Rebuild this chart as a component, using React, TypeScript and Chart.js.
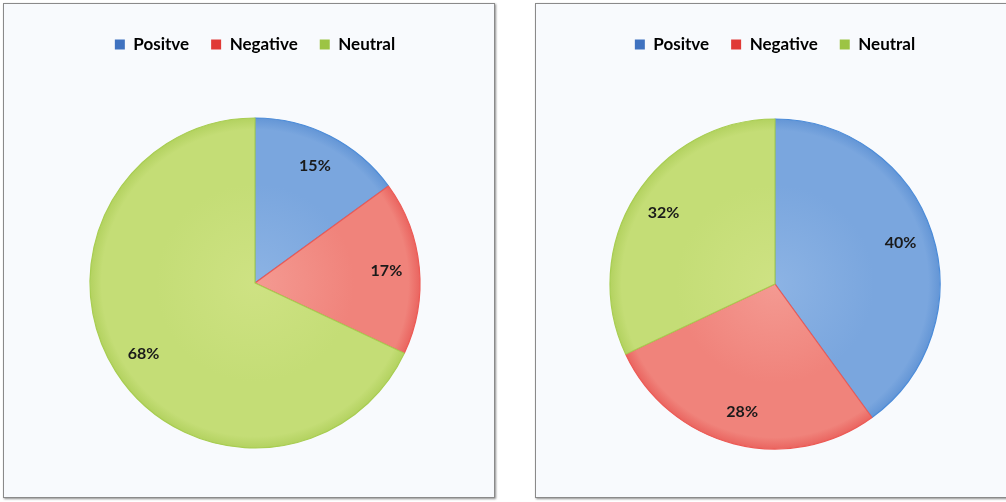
import React, { useEffect, useRef } from "react";
import { Chart, registerables } from "chart.js";

Chart.register(...registerables);

const CATEGORIES = ["Positve", "Negative", "Neutral"];
const LEFT_VALUES = [15, 17, 68];
const RIGHT_VALUES = [40, 28, 32];
const LEGEND_COLORS = ["#3f72c0", "#e03a36", "#9cc444"];
const INNER_COLORS = ["#8cb3e4", "#f49a92", "#cee283"];
const MID_COLORS = ["#7aa6de", "#f0837b", "#c4dd76"];
const OUTER_COLORS = ["#6496d6", "#ea6560", "#b3d260"];
const EDGE_COLORS = ["#4b8bd8", "#ec5a55", "#a8cd52"];
const PIE_RADIUS = 165;

const labelPlugin = {
  id: "sliceLabels",
  afterDatasetsDraw(chart: any) {
    const ctx = chart.ctx;
    const meta = chart.getDatasetMeta(0);
    const data = chart.data.datasets[0].data as number[];
    ctx.save();
    ctx.font = "bold 16px Lato";
    ctx.fillStyle = "#1a1a1a";
    ctx.textAlign = "center";
    ctx.textBaseline = "middle";
    meta.data.forEach((arc: any, i: number) => {
      const p = arc.getProps(["x", "y", "startAngle", "endAngle", "outerRadius"], true);
      const mid = (p.startAngle + p.endAngle) / 2;
      const r = p.outerRadius * 0.8;
      ctx.fillText(data[i] + "%", p.x + Math.cos(mid) * r, p.y + Math.sin(mid) * r);
    });
    ctx.restore();
  },
};

function PieBox(props: { values: number[]; width: number; height: number; padLeft: number }) {
  const ref = useRef<HTMLCanvasElement | null>(null);
  useEffect(() => {
    if (!ref.current) return;
    const chart = new Chart(ref.current, {
      type: "pie",
      data: {
        labels: CATEGORIES,
        datasets: [
          {
            data: props.values,
            radius: PIE_RADIUS,
            borderWidth: 1.2,
            borderColor: EDGE_COLORS,
            backgroundColor: (c: any) => {
              const ch = c.chart;
              const area = ch.chartArea;
              const i = c.dataIndex ?? 0;
              if (!area) return MID_COLORS[i];
              const cx = (area.left + area.right) / 2;
              const cy = (area.top + area.bottom) / 2;
              const g = ch.ctx.createRadialGradient(cx, cy, 0, cx, cy, PIE_RADIUS);
              g.addColorStop(0, INNER_COLORS[i]);
              g.addColorStop(0.6, MID_COLORS[i]);
              g.addColorStop(0.93, MID_COLORS[i]);
              g.addColorStop(1, OUTER_COLORS[i]);
              return g;
            },
          } as any,
        ],
      },
      options: {
        responsive: false,
        animation: false,
        layout: { padding: { top: 10, left: props.padLeft, right: 0, bottom: 0 } },
        plugins: {
          tooltip: { enabled: false },
          legend: {
            position: "top",
            labels: {
              boxWidth: 10,
              boxHeight: 10,
              padding: 22,
              color: "#1a1a1a",
              font: { family: "Lato", size: 17, weight: "bold" },
              generateLabels: () =>
                CATEGORIES.map((t, i) => ({
                  text: t,
                  fillStyle: LEGEND_COLORS[i],
                  strokeStyle: LEGEND_COLORS[i],
                  lineWidth: 0,
                  hidden: false,
                  index: i,
                })),
            },
          },
        },
      },
      plugins: [labelPlugin],
    });
    return () => chart.destroy();
  }, []);
  return <canvas ref={ref} width={props.width} height={props.height} style={{ display: "block" }} />;
}

export default function App() {
  const boxBase: React.CSSProperties = {
    position: "absolute",
    top: 3,
    height: 493,
    border: "1px solid #8a8a8a",
    background: "#f8fafd",
    boxShadow: "1px 1px 2px rgba(0,0,0,0.45)",
    overflow: "hidden",
  };
  return (
    <div style={{ position: "fixed", left: 0, top: 0, width: 1006, height: 502, background: "#ffffff" }}>
      <div style={{ ...boxBase, left: 3, width: 490 }}>
        <PieBox values={LEFT_VALUES} width={490} height={499} padLeft={12} />
      </div>
      <div style={{ ...boxBase, left: 535, width: 480 }}>
        <PieBox values={RIGHT_VALUES} width={478} height={501} padLeft={0} />
      </div>
    </div>
  );
}
